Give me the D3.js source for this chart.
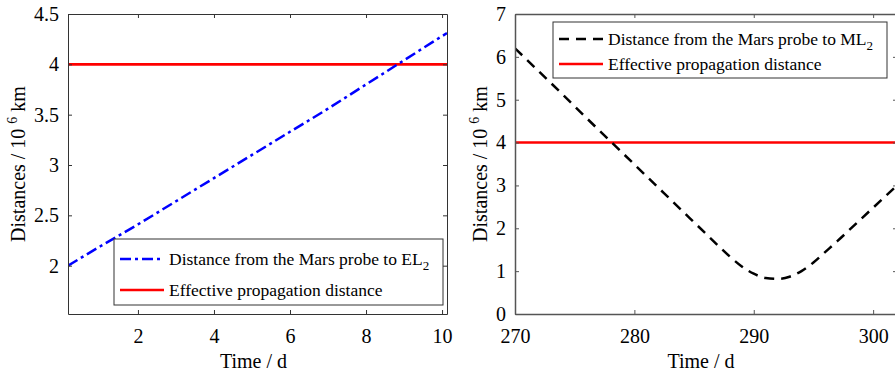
<!DOCTYPE html>
<html>
<head>
<meta charset="utf-8">
<script src="https://cdn.jsdelivr.net/npm/d3@7"></script>
<style>
  body { margin: 0; background: #fff; }
  svg { display: block; font-family: "Liberation Serif", "Times New Roman", serif; }
</style>
</head>
<body>
<svg id="chart" width="895" height="372"></svg>
<script>
// Data
const elTime = [0.16, 1, 2, 3, 4, 5, 6, 7, 8, 9, 10, 10.13]
const elDist = [2.0, 2.19, 2.41, 2.64, 2.87, 3.10, 3.33, 3.56, 3.80, 4.04, 4.28, 4.31]

const mlTime = [270, 272, 274, 276, 278, 280, 282, 284, 286, 287, 288, 289, 290, 291, 292, 293, 294, 295, 296, 297, 298, 299, 300, 301, 302]
const mlDist = [6.20, 5.66, 5.12, 4.57, 4.03, 3.49, 2.95, 2.41, 1.87, 1.60, 1.34, 1.11, 0.94, 0.84, 0.82, 0.87, 1.00, 1.20, 1.45, 1.70, 1.96, 2.22, 2.48, 2.74, 3.00]

const effectiveDist = 4

const leftXTicks = [2, 4, 6, 8, 10]
const leftYTicks = [2, 2.5, 3, 3.5, 4, 4.5]
const rightXTicks = [270, 280, 290, 300]
const rightYTicks = [0, 1, 2, 3, 4, 5, 6, 7]

const svg = d3.select("#chart")

drawPanel({
    x0: 68, x1: 447, y0: 14, y1: 314,
    xDomain: [0.16, 10.13], yDomain: [1.52, 4.5],
    xTicks: leftXTicks, yTicks: leftYTicks,
    axisColor: "#333", axisWidth: 1,
    time: elTime, dist: elDist,
    curveColor: "#0000ff", dash: "11,4,3,4",
    legend: {x: 114, y: 239, w: 329, h: 66, rows: [259, 290], label: "EL"},
    yLabelX: 25
})

drawPanel({
    x0: 515, x1: 897, y0: 14, y1: 314,
    xDomain: [270, 302], yDomain: [0, 7],
    xTicks: rightXTicks, yTicks: rightYTicks,
    axisColor: "#555", axisWidth: 1.5,
    time: mlTime, dist: mlDist,
    curveColor: "#000", dash: "10,7",
    legend: {x: 553, y: 22, w: 334, h: 56, rows: [39, 64], label: "ML"},
    yLabelX: 487
})

function drawPanel(p){
    const x = d3.scaleLinear().domain(p.xDomain).range([p.x0, p.x1])
    const y = d3.scaleLinear().domain(p.yDomain).range([p.y1, p.y0])
    const g = svg.append("g")

    const clipId = "clip" + p.x0
    g.append("clipPath").attr("id", clipId)
        .append("rect")
        .attr("x", p.x0).attr("y", p.y0)
        .attr("width", p.x1 - p.x0).attr("height", p.y1 - p.y0)

    const plot = g.append("g").attr("clip-path", "url(#" + clipId + ")")

    // red reference line
    plot.append("line")
        .attr("x1", p.x0).attr("x2", p.x1)
        .attr("y1", y(effectiveDist)).attr("y2", y(effectiveDist))
        .attr("stroke", "#ff0000")
        .attr("stroke-width", 2.6)

    const line = d3.line()
        .x((d, i) => x(p.time[i]))
        .y(d => y(d))
        .curve(d3.curveMonotoneX)

    plot.append("path")
        .datum(p.dist)
        .attr("d", line)
        .attr("fill", "none")
        .attr("stroke", p.curveColor)
        .attr("stroke-width", 2.5)
        .attr("stroke-dasharray", p.dash)

    // axes: box with inward ticks on all four sides
    const tickLen = 4
    const axisBottom = d3.axisBottom(x).tickValues(p.xTicks).tickSizeInner(-tickLen).tickSizeOuter(0).tickPadding(15)
    const axisTop = d3.axisTop(x).tickValues(p.xTicks).tickSizeInner(-tickLen).tickSizeOuter(0).tickFormat("")
    const axisLeft = d3.axisLeft(y).tickValues(p.yTicks).tickSizeInner(-tickLen).tickSizeOuter(0).tickPadding(9).tickFormat(d => d)
    const axisRight = d3.axisRight(y).tickValues(p.yTicks).tickSizeInner(-tickLen).tickSizeOuter(0).tickFormat("")

    const styleAxis = sel => {
        sel.attr("font-family", null)
        sel.select(".domain").attr("stroke", p.axisColor).attr("stroke-width", p.axisWidth)
        sel.selectAll(".tick line").attr("stroke", p.axisColor).attr("stroke-width", 1)
        sel.selectAll(".tick text")
            .attr("fill", "#000")
            .style("font-size", "20px")
            .style("font-family", "'Liberation Serif', serif")
    }

    g.append("g").attr("transform", "translate(0," + p.y1 + ")").call(axisBottom).call(styleAxis)
    g.append("g").attr("transform", "translate(0," + p.y0 + ")").call(axisTop).call(styleAxis)
    g.append("g").attr("transform", "translate(" + p.x0 + ",0)").call(axisLeft).call(styleAxis)
    g.append("g").attr("transform", "translate(" + p.x1 + ",0)").call(axisRight).call(styleAxis)

    // axis labels
    g.append("text")
        .attr("x", (p.x0 + Math.min(p.x1, 895)) / 2 - 4)
        .attr("y", 368)
        .attr("text-anchor", "middle")
        .style("font-size", "20px")
        .text("Time / d")

    const yl = g.append("text")
        .attr("transform", "translate(" + p.yLabelX + "," + ((p.y0 + p.y1) / 2) + ") rotate(-90)")
        .attr("text-anchor", "middle")
        .style("font-size", "20px")
    yl.append("tspan").text("Distances / 10 ")
    yl.append("tspan").attr("dy", -8).style("font-size", "14px").text("6")
    yl.append("tspan").attr("dy", 8).text(" km")

    // legend
    const L = p.legend
    const lg = g.append("g")
    lg.append("rect")
        .attr("x", L.x).attr("y", L.y)
        .attr("width", L.w).attr("height", L.h)
        .attr("fill", "#fff")
        .attr("stroke", "#333")
        .attr("stroke-width", 1)

    const items = [
        {color: p.curveColor, dash: p.dash, main: "Distance from the Mars probe to " + L.label, sub: "2"},
        {color: "#ff0000", dash: null, main: "Effective propagation distance", sub: null}
    ]
    items.forEach((it, i) => {
        const ry = L.rows[i]
        lg.append("line")
            .attr("x1", L.x + 6).attr("x2", L.x + 50)
            .attr("y1", ry).attr("y2", ry)
            .attr("stroke", it.color)
            .attr("stroke-width", 2.6)
            .attr("stroke-dasharray", it.dash)
        const t = lg.append("text")
            .attr("x", L.x + 55)
            .attr("y", ry + 6)
            .style("font-size", "17.5px")
        t.append("tspan").text(it.main)
        if(it.sub) t.append("tspan").attr("dy", 5).style("font-size", "13px").text(it.sub)
    })
}
</script>
</body>
</html>
